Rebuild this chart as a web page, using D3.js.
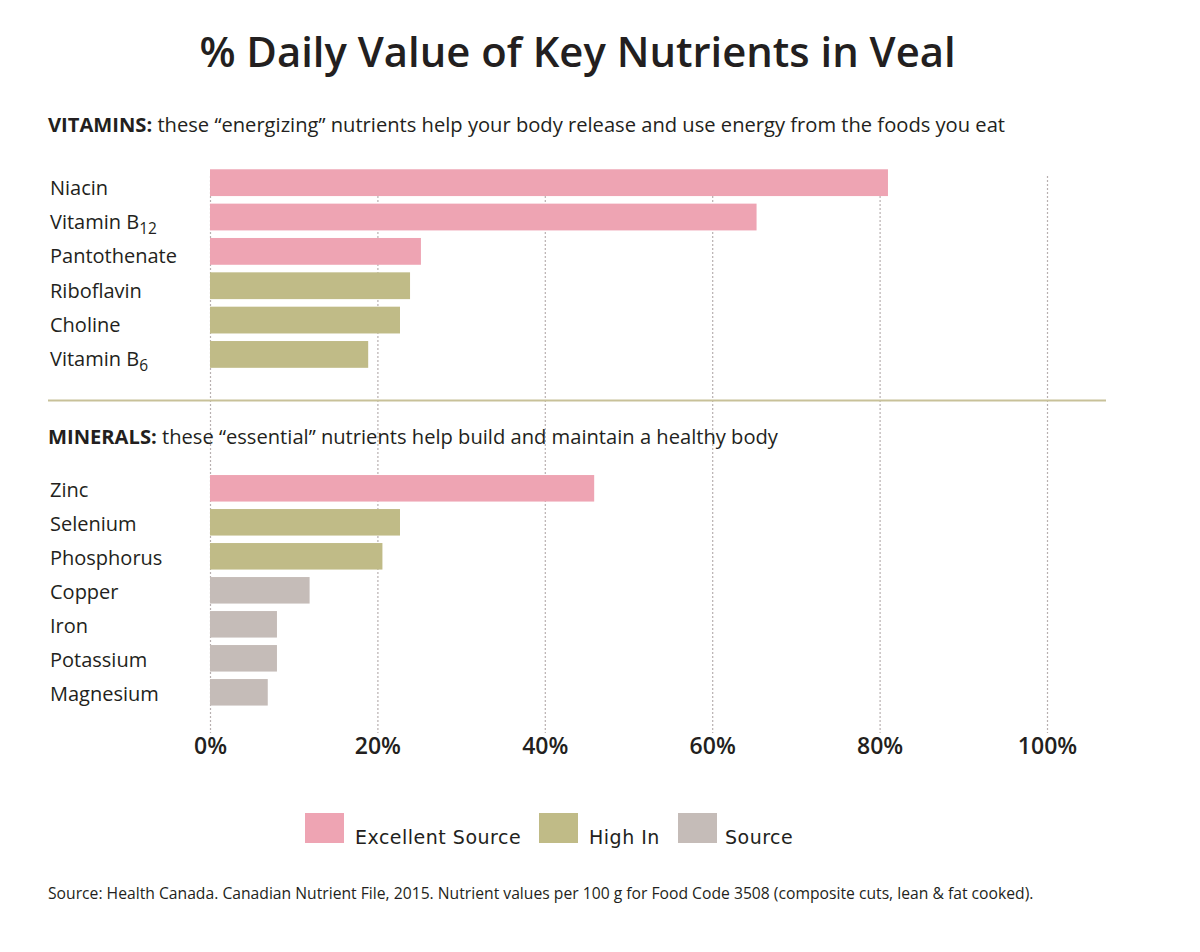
<!DOCTYPE html>
<html>
<head>
<meta charset="utf-8">
<script src="https://cdn.jsdelivr.net/npm/d3@7/dist/d3.min.js"></script>
<style>
  html, body { margin: 0; padding: 0; background: #fff; }
  svg { display: block; }
</style>
</head>
<body>
<svg id="chart" width="1200" height="952"></svg>
<script>
// ---- Data ----
const vitaminNames = ["Niacin", "Vitamin B12", "Pantothenate", "Riboflavin", "Choline", "Vitamin B6"];
const vitaminValues = [81, 65.3, 25.2, 23.9, 22.7, 18.9];
const vitaminLevels = ["Excellent Source", "Excellent Source", "Excellent Source", "High In", "High In", "High In"];

const mineralNames = ["Zinc", "Selenium", "Phosphorus", "Copper", "Iron", "Potassium", "Magnesium"];
const mineralValues = [45.9, 22.7, 20.6, 11.9, 8.0, 8.0, 6.9];
const mineralLevels = ["Excellent Source", "High In", "High In", "Source", "Source", "Source", "Source"];

const levelNames = ["Excellent Source", "High In", "Source"];
const levelColors = ["#eea4b3", "#c0bb87", "#c5bcb8"];

const tickValues = [0, 20, 40, 60, 80, 100];

const titleText = "% Daily Value of Key Nutrients in Veal";
const sourceText = "Source: Health Canada. Canadian Nutrient File, 2015. Nutrient values per 100 g for Food Code 3508 (composite cuts, lean & fat cooked).";

// ---- Setup ----
const svg = d3.select("#chart");
const font = "'Open Sans', sans-serif";
const textColor = "#231f20";

const x = d3.scaleLinear().domain([0, 100]).range([210, 1047]);
const color = d3.scaleOrdinal().domain(levelNames).range(levelColors);

// Title
svg.append("text")
  .attr("x", 577.5).attr("y", 67)
  .attr("text-anchor", "middle")
  .attr("font-family", font).attr("font-weight", 600)
  .attr("font-size", 41.8).attr("fill", textColor)
  .text(titleText);

// Gridlines
svg.append("g").selectAll("line")
  .data(tickValues)
  .join("line")
  .attr("x1", d => x(d) + 0.5).attr("x2", d => x(d) + 0.5)
  .attr("y1", 176).attr("y2", 733)
  .attr("stroke", "#b8b0b0").attr("stroke-width", 1.2)
  .attr("stroke-dasharray", "2,2");

// Section headers
function header(y, bold, rest) {
  const t = svg.append("text")
    .attr("x", 48).attr("y", y)
    .attr("font-family", font).attr("font-size", 20.15)
    .attr("fill", textColor);
  t.append("tspan").attr("font-weight", 700).text(bold);
  t.append("tspan").text(rest);
}
header(132, "VITAMINS:", " these \u201Cenergizing\u201D nutrients help your body release and use energy from the foods you eat");
header(444, "MINERALS:", " these \u201Cessential\u201D nutrients help build and maintain a healthy body");

// Separator
svg.append("line")
  .attr("x1", 48).attr("x2", 1106)
  .attr("y1", 400.5).attr("y2", 400.5)
  .attr("stroke", "#c8c199").attr("stroke-width", 2);

function drawSection(names, values, levels, r0, r1, labelOffset) {
  const y = d3.scaleBand().domain(names).range([r0, r1]).paddingInner(0.22).paddingOuter(0.11);
  const g = svg.append("g");
  g.selectAll("rect")
    .data(names)
    .join("rect")
    .attr("x", x(0))
    .attr("y", d => y(d))
    .attr("width", (d, i) => x(values[i]) - x(0))
    .attr("height", y.bandwidth())
    .attr("fill", (d, i) => color(levels[i]));

  const labels = g.selectAll("text.label")
    .data(names)
    .join("text")
    .attr("class", "label")
    .attr("x", 50)
    .attr("y", d => y(d) + y.bandwidth() / 2 + labelOffset)
    .attr("font-family", font).attr("font-size", 20)
    .attr("fill", textColor);
  labels.each(function(d) {
    const m = d.match(/^(Vitamin B)(\d+)$/);
    const t = d3.select(this);
    if (m) {
      t.append("tspan").text(m[1]);
      t.append("tspan").attr("font-size", 15.5).attr("dy", 5).text(m[2]);
    } else {
      t.text(d);
    }
  });
}

drawSection(vitaminNames, vitaminValues, vitaminLevels, 165.5, 371.6, 12);
drawSection(mineralNames, mineralValues, mineralLevels, 471.3, 709.3, 8.5);

// Axis tick labels
const axis = d3.axisBottom(x).tickValues(tickValues).tickFormat(d => d + "%").tickSize(0).tickPadding(0);
const ag = svg.append("g").attr("transform", "translate(0,754)").call(axis);
ag.select(".domain").remove();
ag.selectAll("text")
  .attr("font-family", font).attr("font-weight", 600)
  .attr("font-size", 23).attr("fill", textColor)
  .attr("y", 0).attr("dy", 0);

// Legend
const legendX = [305, 539, 678];
const legendTextX = [355, 589, 725];
const lg = svg.append("g");
levelNames.forEach((name, i) => {
  lg.append("rect")
    .attr("x", legendX[i]).attr("y", 813)
    .attr("width", 39).attr("height", 30)
    .attr("fill", levelColors[i]);
  lg.append("text")
    .attr("x", legendTextX[i]).attr("y", 843.5)
    .attr("font-family", "'DejaVu Sans', sans-serif").attr("font-size", 19)
    .attr("letter-spacing", 0.5)
    .attr("fill", textColor)
    .text(name);
});

// Source note
svg.append("text")
  .attr("x", 48).attr("y", 899)
  .attr("font-family", font).attr("font-size", 15.7)
  .attr("fill", textColor)
  .text(sourceText);
</script>
</body>
</html>
